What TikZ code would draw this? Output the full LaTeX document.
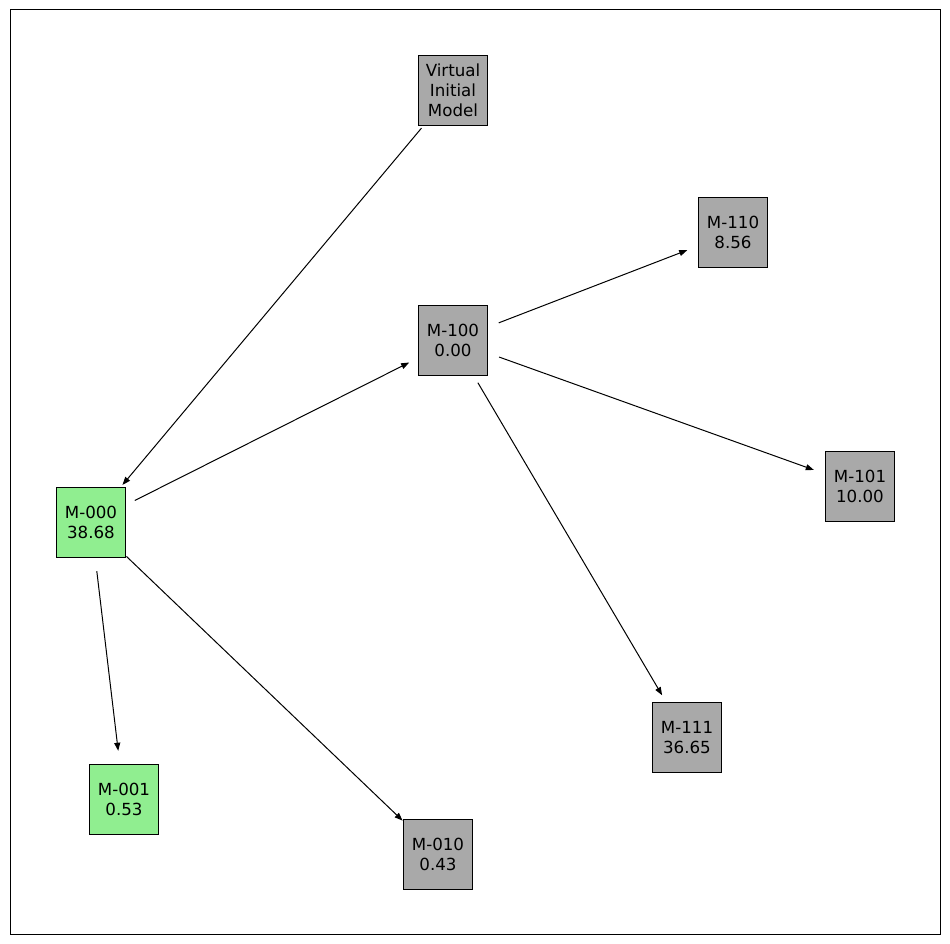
\documentclass[tikz,border=0pt]{standalone}
\usepackage{fontspec}
\setmainfont{DejaVu Sans}
\usetikzlibrary{arrows.meta}
\definecolor{lgreen}{HTML}{90EE90}
\definecolor{dgray}{HTML}{A9A9A9}
\begin{document}
\begin{tikzpicture}[
        x=0.72pt,
        y=-0.72pt,
        model/.style={draw=black, line width=0.72pt, fill=dgray, minimum width=49.7pt, minimum height=49.7pt, inner sep=0pt, align=center, font=\fontsize{12}{14.6}\selectfont},
        best/.style={model, fill=lgreen},
        link/.style={line width=0.72pt, shorten <=35.3pt, shorten >=35.3pt, -{Triangle[length=5.8pt,width=4.3pt]}}
    ]
    \useasboundingbox (0,0) rectangle (950,944);
    \draw[line width=0.72pt] (10,10) rectangle (940,934);

    \node[model] (vim) at (453,90.5) {Virtual\\Initial\\Model};
    \node[model] (m110) at (733,232.5) {M-110\\8.56};
    \node[model] (m100) at (453,340.5) {M-100\\0.00};
    \node[model] (m101) at (860,486.5) {M-101\\10.00};
    \node[best] (m000) at (91,522.5) {M-000\\38.68};
    \node[model] (m111) at (687,737.5) {M-111\\36.65};
    \node[best] (m001) at (124,799.5) {M-001\\0.53};
    \node[model] (m010) at (438,854.5) {M-010\\0.43};

    \draw[link] (vim.center) -- (m000.center);
    \draw[link] (m000.center) -- (m100.center);
    \draw[link] (m000.center) -- (m001.center);
    \draw[link] (m000.center) -- (m010.center);
    \draw[link] (m100.center) -- (m110.center);
    \draw[link] (m100.center) -- (m101.center);
    \draw[link] (m100.center) -- (m111.center);
\end{tikzpicture}
\end{document}
